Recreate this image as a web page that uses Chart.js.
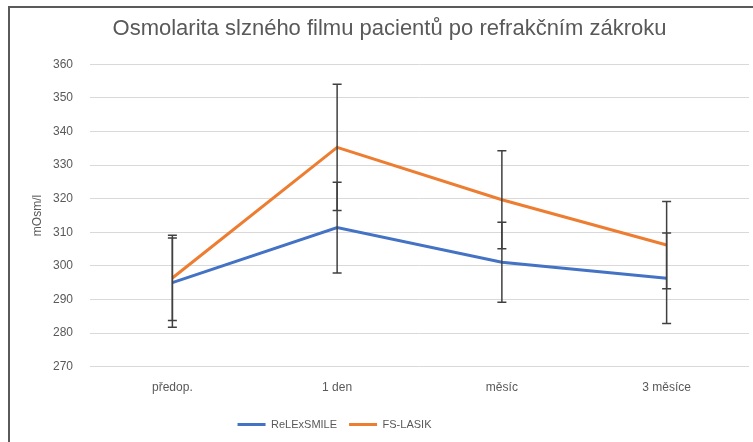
<!DOCTYPE html>
<html>
<head>
<meta charset="utf-8">
<script src="https://cdn.jsdelivr.net/npm/chart.js@4.4.0/dist/chart.umd.min.js"></script>
<style>
  body { margin: 0; background: #fff; }
  #wrap { position: absolute; left: 0; top: 0; width: 753px; height: 442px; }
</style>
</head>
<body>
<div id="wrap"><canvas id="myChart" width="753" height="442"></canvas></div>
<script>
// data
var categories = ['předop.', '1 den', 'měsíc', '3 měsíce'];
var smile = [295, 311.4, 301.1, 296.3];
var smileErr = [13.3, 13.5, 11.9, 13.5];
var lasik = [296.4, 335.3, 319.7, 306.2];
var lasikErr = [12.7, 18.8, 14.6, 13];
var yTicks = [270, 280, 290, 300, 310, 320, 330, 340, 350, 360];

var grey = '#595959';
var fontName = "'Liberation Sans', Arial, sans-serif";

// vertical error bars, drawn on top of the lines
var errorBars = {
    id: 'errorBars',
    afterDatasetsDraw: function(chart) {
        var ctx = chart.ctx;
        var xs = chart.scales.x, ys = chart.scales.y;
        ctx.save();
        ctx.strokeStyle = '#404040';
        ctx.lineWidth = 1.5;
        chart.data.datasets.forEach(function(ds) {
            ds.data.forEach(function(v, i) {
                var x = xs.getPixelForValue(i);
                var top = ys.getPixelForValue(v + ds.errors[i]);
                var bot = ys.getPixelForValue(v - ds.errors[i]);
                ctx.beginPath();
                ctx.moveTo(x, top); ctx.lineTo(x, bot);
                ctx.moveTo(x - 4.5, top); ctx.lineTo(x + 4.5, top);
                ctx.moveTo(x - 4.5, bot); ctx.lineTo(x + 4.5, bot);
                ctx.stroke();
            });
        });
        ctx.restore();
    }
};

// left and top edge of the frame, legend nudged left like the original
var frame = {
    id: 'frame',
    afterLayout: function(chart) {
        if (chart.legend) chart.legend.right -= 110;
    },
    beforeDraw: function(chart) {
        var ctx = chart.ctx;
        ctx.save();
        ctx.strokeStyle = '#5a5a5a';
        ctx.lineWidth = 2;
        ctx.beginPath();
        ctx.moveTo(9, 442);
        ctx.lineTo(9, 7);
        ctx.lineTo(753, 7);
        ctx.stroke();
        ctx.restore();
    }
};

var ctx = document.getElementById('myChart').getContext('2d');
var myChart = new Chart(ctx, {
    type: 'line',
    data: {
        labels: categories,
        datasets: [{
            label: 'ReLExSMILE',
            data: smile,
            errors: smileErr,
            borderColor: '#4472C4',
            backgroundColor: '#4472C4',
            borderWidth: 3,
            pointRadius: 0,
            tension: 0
        }, {
            label: 'FS-LASIK',
            data: lasik,
            errors: lasikErr,
            borderColor: '#ED7D31',
            backgroundColor: '#ED7D31',
            borderWidth: 3,
            pointRadius: 0,
            tension: 0
        }]
    },
    options: {
        responsive: false,
        animation: false,
        layout: { padding: { left: 30, right: 4, top: 12, bottom: 2 } },
        plugins: {
            title: {
                display: true,
                text: 'Osmolarita slzného filmu pacientů po refrakčním zákroku',
                color: grey,
                font: { family: fontName, size: 22, weight: 'normal' },
                padding: { top: 4, bottom: 22 }
            },
            legend: {
                position: 'bottom',
                labels: {
                    usePointStyle: true,
                    pointStyle: 'line',
                    pointStyleWidth: 28,
                    color: grey,
                    font: { family: fontName, size: 11 },
                    padding: 12
                }
            },
            tooltip: { enabled: false }
        },
        scales: {
            x: {
                offset: true,
                afterFit: function(s) { s.height += 6; },
                grid: { display: false },
                border: { display: false },
                ticks: { color: grey, font: { family: fontName, size: 12 }, padding: 6 }
            },
            y: {
                min: 270,
                max: 360,
                afterBuildTicks: function(s) {
                    s.ticks = yTicks.map(function(v) { return { value: v }; });
                },
                afterFit: function(s) { s.width = 60; },
                grid: { color: '#d9d9d9', lineWidth: 1, drawTicks: false },
                border: { display: false },
                ticks: { color: grey, font: { family: fontName, size: 12 }, padding: 17 },
                title: {
                    display: true,
                    text: 'mOsm/l',
                    color: grey,
                    font: { family: fontName, size: 12 },
                    padding: { top: 0, bottom: 0 }
                }
            }
        }
    },
    plugins: [errorBars, frame]
});
</script>
</body>
</html>
